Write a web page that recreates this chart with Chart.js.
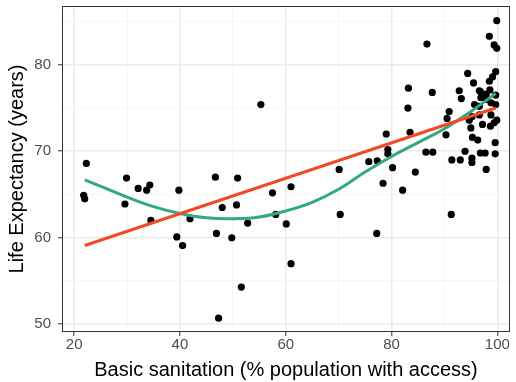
<!DOCTYPE html>
<html>
<head>
<meta charset="utf-8">
<script src="https://cdn.jsdelivr.net/npm/chart.js@4/dist/chart.umd.min.js"></script>
<style>
  body { margin: 0; background: #fff; }
  canvas { display: block; }
</style>
</head>
<body>
<canvas id="myChart" width="516" height="382"></canvas>
<script>
//------------------------------------------------------//
//country values: sanitation access (%) and life expectancy (years)
let sanitation = [22.3, 21.8, 22.0, 29.9, 29.6, 32.1, 33.7, 34.3, 34.5, 39.8,
    39.4, 40.5, 41.9, 46.7, 50.9, 48.0, 50.7, 52.8, 46.9, 49.8,
    51.6, 47.3, 57.5, 58.1, 60.1, 61.0, 61.0, 55.3, 70.1, 70.3,
    75.7, 77.3, 78.4, 80.2, 77.2, 82.1, 84.5, 91.3, 83.2, 83.1,
    79.0, 83.5, 79.3, 79.3, 86.7, 87.7, 86.5, 87.8, 99.9, 98.5,
    99.4, 99.9, 94.4, 95.5, 96.6, 99.7, 99.1, 98.5, 98.6, 92.8,
    93.2, 90.9, 90.5, 90.3, 91.4, 93.0, 95.2, 97.9, 93.9, 96.8,
    97.7, 99.6, 99.6, 97.2, 98.7, 99.4, 99.9, 95.0, 95.3, 96.3,
    95.7, 96.6, 97.9, 96.6, 98.8, 95.2, 97.9, 96.8, 96.9, 99.7,
    94.7, 98.8, 99.7, 95.2]
let lifeExp = [68.6, 64.9, 64.5, 66.9, 63.9, 65.7, 65.5, 66.1, 62.0, 65.5,
    60.1, 59.1, 62.2, 67.0, 66.9, 63.5, 63.8, 61.7, 60.5, 60.0,
    54.3, 50.7, 65.2, 62.7, 61.6, 65.9, 57.0, 75.4, 67.9, 62.7,
    68.8, 68.9, 66.3, 68.1, 60.5, 65.5, 67.6, 62.7, 77.3, 75.0,
    72.0, 72.2, 70.2, 69.7, 82.4, 76.8, 69.9, 69.9, 85.1, 83.3,
    82.3, 81.9, 79.0, 77.9, 77.0, 79.2, 78.6, 78.1, 77.1, 77.0,
    76.1, 74.6, 73.8, 71.9, 69.0, 69.0, 68.7, 67.9, 70.0, 69.8,
    69.8, 69.7, 71.0, 73.1, 72.9, 73.3, 73.6, 72.7, 71.6, 71.3,
    75.4, 75.2, 76.0, 74.2, 74.2, 74.0, 76.6, 76.9, 76.2, 76.5,
    73.6, 75.6, 75.4, 69.2]

//straight line fit (end points)
let linearX = [22.0, 99.7]
let linearY = [59.1, 75.0]

//smooth (loess) fit
let loessX = [22, 26, 30, 35, 40, 45, 50, 55, 60, 65, 70, 75, 80, 85, 90, 95, 99.7]
let loessY = [66.7, 65.7, 64.7, 63.6, 62.8, 62.3, 62.2, 62.4, 63.1, 64.1, 65.6, 67.6, 69.4, 71.0, 72.6, 74.6, 76.7]

//axis ticks (majors get labels, minors only grid lines)
let xMajor = [20, 40, 60, 80, 100]
let xMinor = [30, 50, 70, 90]
let yMajor = [50, 60, 70, 80]
let yMinor = [55, 65, 75, 85]

//------------------------------------------------------//
const toPoints = (xs, ys) => xs.map((x, i) => ({ x: x, y: ys[i] }))

const setTicks = (major, minor) => (scale) => {
    scale.ticks = major.concat(minor).sort((a, b) => a - b).map(v => ({ value: v }))
}

const isMajor = (list) => (ctx) => ctx.tick && list.includes(ctx.tick.value)

const gridStyle = (list) => ({
    color: (ctx) => isMajor(list)(ctx) ? '#EBEBEB' : '#F4F4F4',
    lineWidth: (ctx) => isMajor(list)(ctx) ? 1.6 : 0.8,
    tickColor: (ctx) => isMajor(list)(ctx) ? '#333333' : 'rgba(0,0,0,0)',
    tickLength: 4,
    tickWidth: 1
})

//fixed axis box so the panel sits where we want it
const fitAxis = (size) => (scale) => {
    if (scale.isHorizontal()) scale.height = size
    else scale.width = size
    scale.paddingTop = 0
    scale.paddingBottom = 0
    scale.paddingLeft = 0
    scale.paddingRight = 0
}

//panel border drawn on top of everything
const panelBorder = {
    id: 'panelBorder',
    afterDraw(chart) {
        const a = chart.chartArea
        const ctx = chart.ctx
        ctx.save()
        ctx.strokeStyle = '#333333'
        ctx.lineWidth = 1
        ctx.strokeRect(Math.round(a.left) + 0.5, Math.round(a.top) + 0.5,
            Math.round(a.right - a.left) - 1, Math.round(a.bottom - a.top) - 1)
        ctx.restore()
    }
}

const fontFamily = '"Liberation Sans", Arial, sans-serif'

const ctx = document.getElementById('myChart').getContext('2d')
const chart = new Chart(ctx, {
    type: 'scatter',
    data: {
        datasets: [{
            label: 'linear',
            data: toPoints(linearX, linearY),
            showLine: true,
            borderColor: '#F04A26',
            borderWidth: 3,
            pointRadius: 0
        }, {
            label: 'loess',
            data: toPoints(loessX, loessY),
            showLine: true,
            borderColor: '#33A882',
            borderWidth: 3,
            pointRadius: 0,
            tension: 0.4
        }, {
            label: 'countries',
            data: toPoints(sanitation, lifeExp),
            backgroundColor: '#000000',
            borderColor: '#000000',
            pointRadius: 3.6,
            borderWidth: 0
        }]
    },
    options: {
        responsive: false,
        animation: false,
        devicePixelRatio: 1,
        layout: { padding: { top: 6, right: 6, left: 0, bottom: 0 } },
        plugins: {
            legend: { display: false },
            tooltip: { enabled: false }
        },
        scales: {
            x: {
                type: 'linear',
                min: 17.7,
                max: 102.4,
                afterBuildTicks: setTicks(xMajor, xMinor),
                afterFit: fitAxis(50),
                grid: gridStyle(xMajor),
                border: { display: false },
                ticks: {
                    autoSkip: false,
                    maxRotation: 0,
                    padding: 0,
                    color: '#4D4D4D',
                    font: { family: fontFamily, size: 15 },
                    callback: (v) => xMajor.includes(v) ? v : ''
                },
                title: {
                    display: true,
                    text: 'Basic sanitation (% population with access)',
                    color: '#000000',
                    font: { family: fontFamily, size: 20, lineHeight: 1.2 },
                    padding: { top: 0, bottom: 0 }
                }
            },
            y: {
                type: 'linear',
                min: 49.1,
                max: 86.8,
                afterBuildTicks: setTicks(yMajor, yMinor),
                afterFit: fitAxis(62),
                grid: gridStyle(yMajor),
                border: { display: false },
                ticks: {
                    autoSkip: false,
                    padding: 7,
                    color: '#4D4D4D',
                    font: { family: fontFamily, size: 15 },
                    callback: (v) => yMajor.includes(v) ? v : ''
                },
                title: {
                    display: true,
                    text: 'Life Expectancy (years)',
                    color: '#000000',
                    font: { family: fontFamily, size: 20, lineHeight: 1 },
                    padding: { top: 7, bottom: 0 }
                }
            }
        }
    },
    plugins: [panelBorder]
})
</script>
</body>
</html>
